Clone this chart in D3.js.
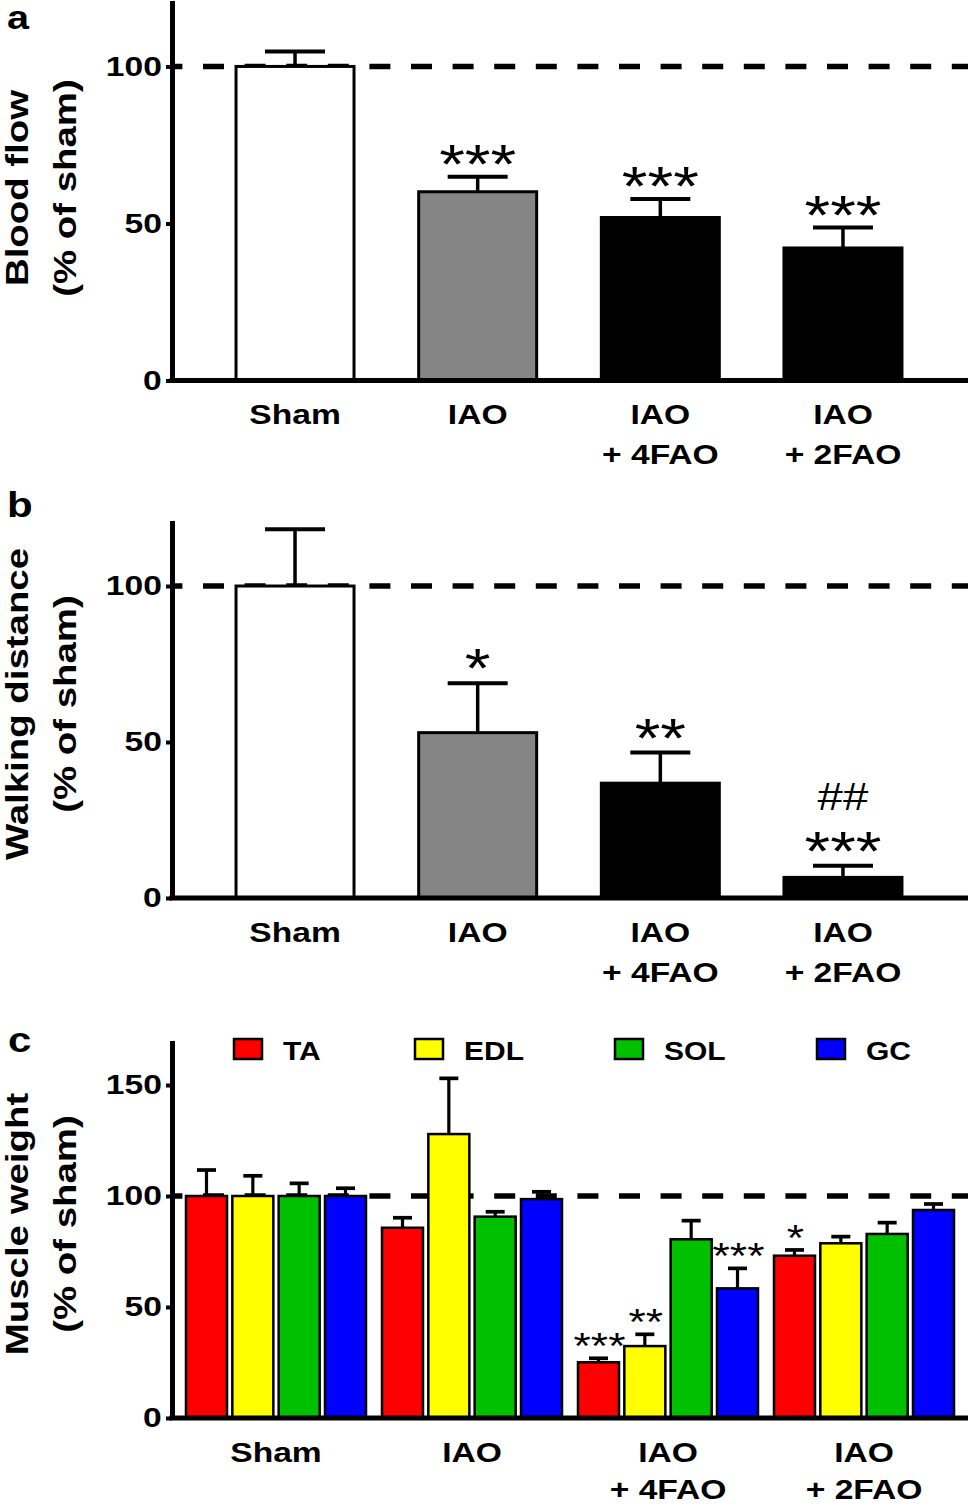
<!DOCTYPE html>
<html><head><meta charset="utf-8">
<script src="https://cdn.jsdelivr.net/npm/d3@7"></script>
<style>body{margin:0;background:#fff} svg{display:block}</style>
</head><body>
<script>
// ---------- DATA ----------
const groups = ["Sham", "IAO", "IAO + 4FAO", "IAO + 2FAO"];
const groupLines = [["Sham"], ["IAO"], ["IAO", "+ 4FAO"], ["IAO", "+ 2FAO"]];
const groupFills = ["#ffffff", "#858585", "#000000", "#000000"];

const bloodFlow    = [100, 60.1, 51.9, 42.2];
const bloodFlowSem = [4.8, 4.8, 5.9, 6.5];
const bloodFlowSig = ["", "***", "***", "***"];

const walking    = [100, 53.0, 36.8, 6.6];
const walkingSem = [18.2, 15.8, 9.8, 3.7];
const walkingSig = ["", "*", "**", "***"];
const walkingSig2 = ["", "", "", "##"];

const muscles = ["TA", "EDL", "SOL", "GC"];
const muscleColors = ["#ff0000", "#ffff00", "#00c000", "#0000ff"];
const taMean  = [100, 85.7, 25.1, 73.1];
const taSem   = [11.7, 4.5, 1.8, 2.6];
const taSig   = ["", "", "***", "*"];
const edlMean = [100, 127.9, 32.4, 78.7];
const edlSem  = [9.1, 25.1, 5.3, 3.0];
const edlSig  = ["", "", "**", ""];
const solMean = [100, 90.7, 80.5, 82.9];
const solSem  = [5.7, 2.2, 8.4, 5.1];
const solSig  = ["", "", "", ""];
const gcMean  = [100, 98.6, 58.4, 93.7];
const gcSem   = [3.5, 3.3, 9.0, 2.7];
const gcSig   = ["", "", "***", ""];

const ticksAB = [0, 50, 100];
const ticksC = [0, 50, 100, 150];
const yTitles = [["Blood flow", "(% of sham)"], ["Walking distance", "(% of sham)"], ["Muscle weight", "(% of sham)"]];
const panelLetters = ["a", "b", "c"];

// ---------- LAYOUT ----------
const FONT = "'Liberation Sans', Arial, Helvetica, sans-serif";
const SX = 1.2;
const AX_X = 172, AX_END = 968;
const svg = d3.select("body").append("svg").attr("width", 969).attr("height", 1504);

function txt(x, y, s, size, opts = {}) {
  return svg.append("text")
    .attr("transform", `translate(${x},${y})${opts.rotate ? ` rotate(${opts.rotate})` : ""} scale(${SX},1)`)
    .attr("font-family", FONT).attr("font-size", size)
    .attr("font-weight", opts.weight || "bold")
    .attr("text-anchor", opts.anchor || "start")
    .attr("fill", "#000")
    .text(s);
}

function refLine(y) {
  svg.append("line").attr("x1", AX_X).attr("x2", AX_END)
    .attr("y1", y(100)).attr("y2", y(100))
    .attr("stroke", "#000").attr("stroke-width", 5.5)
    .attr("stroke-dasharray", "21 20.6").attr("stroke-dashoffset", 10.6);
}

function axes(y, ticks, xBand, lineGap) {
  const ga = svg.append("g").attr("transform", `translate(${AX_X},0)`)
    .call(d3.axisLeft(y).tickValues(ticks).tickSize(6).tickSizeOuter(0));
  ga.select(".domain").attr("stroke-width", 5);
  ga.selectAll(".tick line").attr("stroke-width", 4);
  ga.selectAll(".tick text").attr("x", -8.5).attr("transform", `scale(${SX},1)`)
    .attr("font-family", FONT).attr("font-size", 28).attr("font-weight", "bold").attr("fill", "#000");
  svg.append("line").attr("x1", AX_X - 2.5).attr("x2", AX_END)
    .attr("y1", y(0)).attr("y2", y(0)).attr("stroke", "#000").attr("stroke-width", 5);
  const gx = svg.append("g").attr("transform", `translate(0,${y(0)})`)
    .call(d3.axisBottom(xBand).tickSize(0));
  gx.select(".domain").remove();
  gx.selectAll(".tick text").each(function(d) {
    const t = d3.select(this).text(null).attr("y", 0).attr("dy", null)
      .attr("transform", `scale(${SX},1)`)
      .attr("font-family", FONT).attr("font-size", 28).attr("font-weight", "bold").attr("fill", "#000");
    groupLines[groups.indexOf(d)].forEach((line, j) => {
      t.append("tspan").attr("x", 0).attr("y", 44 + j * lineGap).text(line);
    });
  });
}

function yTitle(idx, cy) {
  txt(28, cy, yTitles[idx][0], 32, { rotate: -90, anchor: "middle" });
  txt(76, cy, yTitles[idx][1], 32, { rotate: -90, anchor: "middle" });
}

function errBar(cx, y, v, sem, hw, sw) {
  svg.append("line").attr("x1", cx).attr("x2", cx).attr("y1", y(v)).attr("y2", y(v + sem))
    .attr("stroke", "#000").attr("stroke-width", sw);
  svg.append("line").attr("x1", cx - hw).attr("x2", cx + hw).attr("y1", y(v + sem)).attr("y2", y(v + sem))
    .attr("stroke", "#000").attr("stroke-width", sw + 0.5);
}

function simplePanel(y, vals, sems, sigs, sigOffset, sigs2) {
  const x = d3.scaleBand().domain(groups).range([203.7, 934.3]).paddingInner(0.354).paddingOuter(0.177);
  refLine(y);
  groups.forEach((g, i) => {
    svg.append("rect").attr("x", x(g)).attr("width", x.bandwidth())
      .attr("y", y(vals[i])).attr("height", y(0) - y(vals[i]))
      .attr("fill", groupFills[i]).attr("stroke", "#000").attr("stroke-width", 3);
    const cx = x(g) + x.bandwidth() / 2;
    errBar(cx, y, vals[i], sems[i], 30, 3.5);
    if (sigs[i]) txt(cx, y(vals[i] + sems[i]) + sigOffset + 2, sigs[i], 55, { anchor: "middle", weight: "normal" });
    if (sigs2 && sigs2[i]) txt(cx, y(vals[i] + sems[i]) - 56, sigs2[i], 38, { anchor: "middle", weight: "normal" });
  });
  axes(y, ticksAB, x, 40);
}

// ---------- PANEL A ----------
const yA = d3.scaleLinear().domain([0, 121]).range([380.5, 0.5]);
simplePanel(yA, bloodFlow, bloodFlowSem, bloodFlowSig, 4);
yTitle(0, 188);
txt(7, 29, panelLetters[0], 33);

// ---------- PANEL B ----------
const yB = d3.scaleLinear().domain([0, 121]).range([898, 520.5]);
simplePanel(yB, walking, walkingSem, walkingSig, 2, walkingSig2);
yTitle(1, 704);
txt(7, 517, panelLetters[1], 35);

// ---------- PANEL C ----------
const yC = d3.scaleLinear().domain([0, 170]).range([1418, 1040.6]);
const xC = d3.scaleBand().domain(groups).range([178, 962]).paddingInner(0.0816).paddingOuter(0.0408);
const xM = d3.scaleBand().domain(muscles).range([0, xC.bandwidth()]).paddingInner(0.115).paddingOuter(0);
const series = [
  { m: "TA", mean: taMean, sem: taSem, sig: taSig },
  { m: "EDL", mean: edlMean, sem: edlSem, sig: edlSig },
  { m: "SOL", mean: solMean, sem: solSem, sig: solSig },
  { m: "GC", mean: gcMean, sem: gcSem, sig: gcSig }
];
refLine(yC);
groups.forEach((g, gi) => {
  series.forEach((s, si) => {
    const bx = xC(g) + xM(s.m);
    const v = s.mean[gi];
    svg.append("rect").attr("x", bx).attr("width", xM.bandwidth())
      .attr("y", yC(v)).attr("height", yC(0) - yC(v))
      .attr("fill", muscleColors[si]).attr("stroke", "#000").attr("stroke-width", 2.5);
    const cx = bx + xM.bandwidth() / 2;
    errBar(cx, yC, v, s.sem[gi], 9.5, 3.2);
    if (s.sig[gi]) txt(cx + 1, yC(v + s.sem[gi]) + 1, s.sig[gi], 37, { anchor: "middle", weight: "normal" });
  });
});
axes(yC, ticksC, xC, 37);
yTitle(2, 1224);
txt(8, 1052, panelLetters[2], 35);

// legend
const legendX = [234, 415, 615, 817];
muscles.forEach((m, i) => {
  svg.append("rect").attr("x", legendX[i]).attr("y", 1039).attr("width", 28).attr("height", 20)
    .attr("fill", muscleColors[i]).attr("stroke", "#000").attr("stroke-width", 2.5);
  txt(legendX[i] + 49, 1060, m, 25);
});
</script>
</body></html>
